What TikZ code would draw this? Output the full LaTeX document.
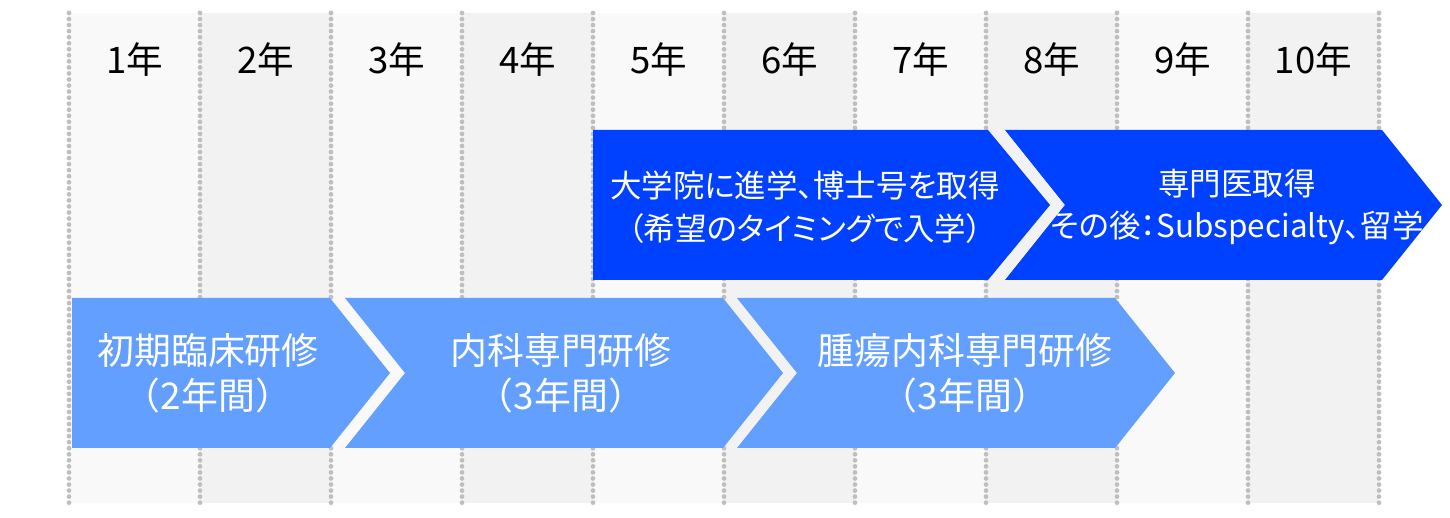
\documentclass[tikz,border=0pt]{standalone}
\usepackage{fontspec}
\setmainfont{Noto Sans CJK JP}
\newfontfamily\paltfont{Noto Sans CJK JP}[RawFeature=+palt]
\usepackage{tikz}
\usetikzlibrary{positioning,calc}

\definecolor{colA}{HTML}{F9F9F9}
\definecolor{colB}{HTML}{F2F2F2}
\definecolor{dotgray}{HTML}{BFBFBF}
\definecolor{darkblue}{HTML}{0040FF}
\definecolor{lightblue}{HTML}{639FFF}

\tikzset{
	dotline/.style={draw=dotgray, line width=1.35pt, line cap=round, dash pattern=on 0pt off 1.72pt},
	yearlabel/.style={font=\fontsize{10.4}{12}\selectfont, text=black},
	darktext/.style={font=\paltfont\fontsize{8.95}{12.2}\selectfont, text=white, align=center},
	lighttext/.style={font=\fontsize{10.5}{12.8}\selectfont, text=white, align=center}
}

\begin{document}
\begin{tikzpicture}
			\useasboundingbox (0,0) rectangle (14.5,5.17);
			
			\fill[colA] (0.69,0.14) rectangle (2.00,5.04);
			\fill[colB] (2.00,0.14) rectangle (3.31,5.04);
			\fill[colA] (3.31,0.14) rectangle (4.62,5.04);
			\fill[colB] (4.62,0.14) rectangle (5.93,5.04);
			\fill[colA] (5.93,0.14) rectangle (7.24,5.04);
			\fill[colB] (7.24,0.14) rectangle (8.55,5.04);
			\fill[colA] (8.55,0.14) rectangle (9.86,5.04);
			\fill[colB] (9.86,0.14) rectangle (11.17,5.04);
			\fill[colA] (11.17,0.14) rectangle (12.48,5.04);
			\fill[colB] (12.48,0.14) rectangle (13.79,5.04);
			
			\draw[dotline] (0.69,5.04) -- (0.69,0.14);
			\draw[dotline] (2.00,5.04) -- (2.00,0.14);
			\draw[dotline] (3.31,5.04) -- (3.31,0.14);
			\draw[dotline] (4.62,5.04) -- (4.62,0.14);
			\draw[dotline] (5.93,5.04) -- (5.93,0.14);
			\draw[dotline] (7.24,5.04) -- (7.24,0.14);
			\draw[dotline] (8.55,5.04) -- (8.55,0.14);
			\draw[dotline] (9.86,5.04) -- (9.86,0.14);
			\draw[dotline] (11.17,5.04) -- (11.17,0.14);
			\draw[dotline] (12.48,5.04) -- (12.48,0.14);
			\draw[dotline] (13.79,5.04) -- (13.79,0.14);
			
			\node[yearlabel] (y1) at (1.345,4.57) {1年};
			\node[yearlabel] (y2) at (2.655,4.57) {2年};
			\node[yearlabel] (y3) at (3.965,4.57) {3年};
			\node[yearlabel] (y4) at (5.275,4.57) {4年};
			\node[yearlabel] (y5) at (6.585,4.57) {5年};
			\node[yearlabel] (y6) at (7.895,4.57) {6年};
			\node[yearlabel] (y7) at (9.205,4.57) {7年};
			\node[yearlabel] (y8) at (10.515,4.57) {8年};
			\node[yearlabel] (y9) at (11.825,4.57) {9年};
			\node[yearlabel] (y10) at (13.135,4.57) {10年};
			
			\fill[darkblue] (5.93,3.87) -- (9.88,3.87) -- (10.50,3.12) -- (9.88,2.37) -- (5.93,2.37) -- cycle;
			\fill[darkblue] (10.05,3.87) -- (13.82,3.87) -- (14.42,3.12) -- (13.82,2.37) -- (10.05,2.37) -- (10.65,3.12) -- cycle;
			
			\fill[lightblue] (0.72,2.19) -- (3.30,2.19) -- (3.90,1.44) -- (3.30,0.69) -- (0.72,0.69) -- cycle;
			\fill[lightblue] (3.45,2.19) -- (7.23,2.19) -- (7.83,1.44) -- (7.23,0.69) -- (3.45,0.69) -- (4.05,1.44) -- cycle;
			\fill[lightblue] (7.37,2.19) -- (11.15,2.19) -- (11.75,1.44) -- (11.15,0.69) -- (7.37,0.69) -- (7.97,1.44) -- cycle;
			
			\node[darktext] (grad) at (8.05,3.10) {大学院に進学、博士号を取得\\（希望のタイミングで入学）};
			\node[darktext] (spec) at (12.37,3.10) {専門医取得\\その後：Subspecialty、留学};
			
			\node[lighttext] (init) at (2.08,1.435) {初期臨床研修\\（2年間）};
			\node[lighttext] (intmed) at (5.61,1.435) {内科専門研修\\（3年間）};
			\node[lighttext] (onco) at (9.65,1.435) {腫瘍内科専門研修\\（3年間）};
		\end{tikzpicture}
\end{document}
